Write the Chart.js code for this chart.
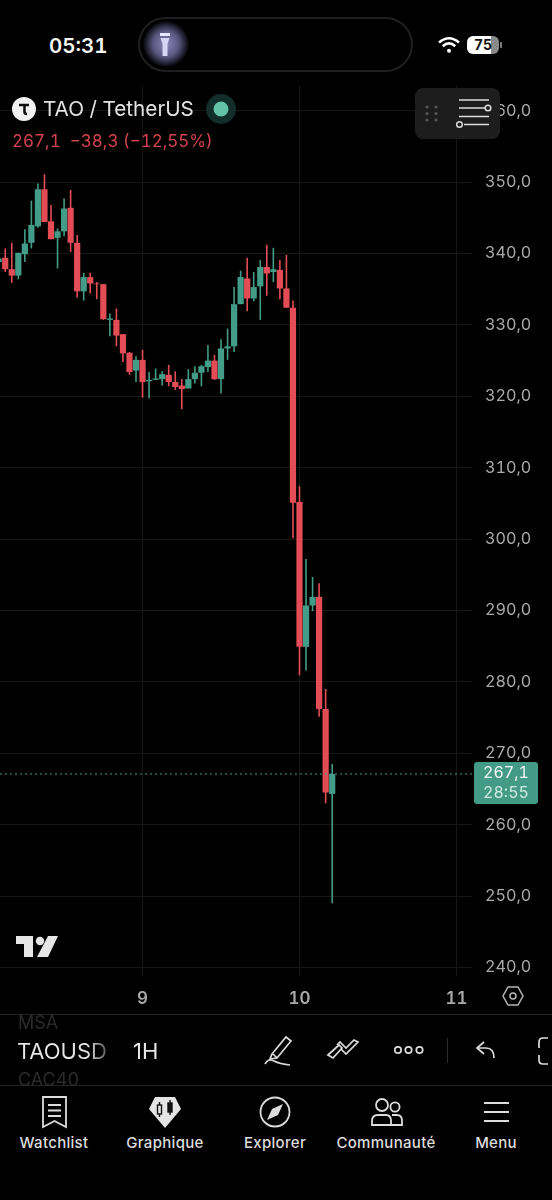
<!DOCTYPE html>
<html lang="fr">
<head>
<meta charset="utf-8">
<title>TAO / TetherUS</title>
<script src="https://cdn.jsdelivr.net/npm/chart.js@4"></script>
<style>
html, body { margin: 0; padding: 0; background: #000; }
body { position: relative; width: 552px; height: 1200px; overflow: hidden; font-family: Inter, "Noto Sans", sans-serif; color: #ddd; font-variant-numeric: tabular-nums; }
.abs { position: absolute; white-space: nowrap; }
svg { position: absolute; overflow: visible; }
#chartBox { position: absolute; left: 0; top: 85px; width: 552px; height: 930px; }
.tab { position: absolute; top: 1134px; width: 110px; text-align: center; font-size: 15px; font-weight: 500; letter-spacing: .3px; color: #dcdcdc; line-height: 18px; }
</style>
</head>
<body>

<div id="chartBox"><canvas id="myChart"></canvas></div>

<!-- status bar -->
<div class="abs" style="left:49px;top:32px;font-size:20.5px;font-weight:600;color:#f4f4f4;line-height:27px">05:31</div>
<div class="abs" style="left:138px;top:17px;width:271px;height:51px;border:2px solid #1f1f1f;border-radius:28px"></div>
<div class="abs" style="left:143px;top:21px;width:46px;height:46px;border-radius:50%;background:radial-gradient(circle,#8d88b8 0%,#5a5680 40%,#000 72%)"></div>
<svg style="left:158px;top:32px" width="14" height="26" viewBox="0 0 14 26">
  <rect x="2" y="1" width="10" height="3" fill="#e8e6fb"/>
  <path d="M2.5 6 H11.5 L9.5 12 V24 H4.5 V12 Z" fill="#d8d4f5"/>
</svg>
<svg style="left:438px;top:36px" width="22" height="18" viewBox="0 0 22 18" fill="none" stroke="#fff" stroke-width="2.6">
  <path d="M1 6.5 Q11 -2 21 6.5"/><path d="M4.8 10.3 Q11 4.6 17.2 10.3"/>
  <circle cx="11" cy="14.8" r="2" fill="#fff" stroke="none"/>
</svg>
<div class="abs" style="left:467px;top:36px;width:32px;height:18px;border-radius:6px;background:linear-gradient(90deg,#fff 0,#fff 74%,#8a8a8a 74%,#8a8a8a 100%)"></div>
<div class="abs" style="left:500px;top:42px;width:2px;height:6px;background:#777"></div>
<div class="abs" style="left:467px;top:36px;width:32px;text-align:center;font-size:14px;font-weight:700;color:#111;line-height:18px">75</div>

<!-- symbol header -->
<svg style="left:12px;top:97px" width="24" height="24" viewBox="0 0 24 24">
  <circle cx="12" cy="12" r="12" fill="#f2f2f2"/>
  <path d="M7 8 H17 M12.5 8 V15 Q12.5 17 15 17" fill="none" stroke="#111" stroke-width="2.6"/>
</svg>
<div class="abs" style="left:43px;top:96px;font-size:20.7px;color:#e2e2e2;line-height:26px">TAO / TetherUS</div>
<svg style="left:206px;top:94px" width="30" height="30" viewBox="0 0 30 30">
  <circle cx="15" cy="15" r="15" fill="#112e2a"/><circle cx="15" cy="15" r="7.5" fill="#62c2a9"/>
</svg>
<div class="abs" style="left:12px;top:130px;font-size:17px;color:#d5434c;line-height:22px">267,1&nbsp; −38,3 (−12,55%)</div>

<!-- floating drawing panel -->
<div class="abs" style="left:415px;top:88px;width:85px;height:51px;border-radius:8px;background:#1d1d1d"></div>
<svg style="left:415px;top:88px" width="85" height="51" viewBox="0 0 85 51" fill="none" stroke="#dcdcdc" stroke-width="1.5">
  <g fill="#555" stroke="none">
    <circle cx="12" cy="19" r="1.6"/><circle cx="21" cy="19" r="1.6"/>
    <circle cx="12" cy="25.5" r="1.6"/><circle cx="21" cy="25.5" r="1.6"/>
    <circle cx="12" cy="32" r="1.6"/><circle cx="21" cy="32" r="1.6"/>
  </g>
  <path d="M44 12 H74 M44 20 H70 M44 28.5 H74 M49 36.5 H74"/>
  <circle cx="73" cy="20" r="2.8"/><circle cx="44.5" cy="36.5" r="2.8"/>
</svg>

<!-- last price tag -->
<div class="abs" style="left:474px;top:762px;width:64px;height:42px;border-radius:3px;background:#439a87"></div>
<div class="abs" style="left:474px;top:762px;width:64px;text-align:center;font-size:16px;color:#f4f4f4;line-height:21px">267,1</div>
<div class="abs" style="left:474px;top:782px;width:64px;text-align:center;font-size:16px;color:#cfe9e2;line-height:21px">28:55</div>

<!-- tradingview logo -->
<svg style="left:16px;top:936px" width="42" height="22" viewBox="0 0 42 22" fill="#e6e6e6">
  <path d="M0 0 H17 V21 H8 V8 H0 Z"/>
  <circle cx="24" cy="5" r="4.2"/>
  <path d="M32 0 H42 L32 21 H21 Z"/>
</svg>

<!-- settings hexagon -->
<svg style="left:502px;top:985px" width="22" height="22" viewBox="0 0 22 22" fill="none" stroke="#b5b5b5" stroke-width="1.5">
  <path d="M6 2 H16 L21 11 L16 20 H6 L1 11 Z"/><circle cx="11" cy="11" r="3"/>
</svg>

<!-- toolbar -->
<div class="abs" style="left:0;top:1014px;width:552px;height:1px;background:#242424"></div>
<div class="abs" style="left:0;top:1085px;width:552px;height:1px;background:#242424"></div>
<div class="abs" style="left:18px;top:1012px;font-size:18px;color:#2b2b2b;line-height:22px">MSA</div>
<div class="abs" style="left:18px;top:1069px;font-size:18px;color:#2b2b2b;line-height:22px">CAC40</div>
<div class="abs" style="left:17px;top:1037px;width:90px;overflow:hidden;font-size:22px;line-height:28px;color:transparent;background:linear-gradient(90deg,#e6e6e6 78%,#555 100%);-webkit-background-clip:text;background-clip:text">TAOUSD</div>
<div class="abs" style="left:133px;top:1037px;font-size:22px;font-variant-numeric:normal;color:#e6e6e6;line-height:28px">1H</div>
<svg style="left:264px;top:1035px" width="30" height="32" viewBox="0 0 30 32" fill="none" stroke="#dcdcdc" stroke-width="1.7">
  <path d="M8 19 L22 2 L27 6 L13 23 L6 24 Z"/><path d="M9 19 L13 23"/>
  <path d="M1 29 Q4 23 10 26 T26 30"/>
</svg>
<svg style="left:327px;top:1038px" width="33" height="24" viewBox="0 0 33 24" fill="none" stroke="#dcdcdc" stroke-width="1.7">
  <path d="M1 17 L12 7 L15 10 L6 20 Z"/><path d="M14 11 L19 16 L31 4 L27 2 L19 10 L13 4 L10 7"/>
</svg>
<svg style="left:394px;top:1044px" width="30" height="12" viewBox="0 0 30 12" fill="none" stroke="#dcdcdc" stroke-width="1.7">
  <circle cx="4" cy="6" r="3.2"/><circle cx="14.5" cy="6" r="3.2"/><circle cx="25.5" cy="6" r="3.2"/>
</svg>
<div class="abs" style="left:447px;top:1038px;width:1px;height:25px;background:#2c2c2c"></div>
<svg style="left:476px;top:1041px" width="20" height="18" viewBox="0 0 20 18" fill="none" stroke="#dcdcdc" stroke-width="1.7">
  <path d="M8 1 L1 7 L8 13"/><path d="M1 7 H10 Q18 7 18 17"/>
</svg>
<svg style="left:538px;top:1037px" width="14" height="28" viewBox="0 0 14 28" fill="none" stroke="#dcdcdc" stroke-width="1.7">
  <path d="M10 1 H5 Q1 1 1 5 V11 M1 18 V23 Q1 27 5 27 H10"/>
</svg>

<!-- bottom tabs -->
<svg style="left:42px;top:1096px" width="25" height="32" viewBox="0 0 25 32" fill="none" stroke="#dcdcdc" stroke-width="1.8">
  <path d="M1 1 H24 V31 L12.5 25 L1 31 Z"/><path d="M6 9 H19 M6 14.5 H19 M6 20 H19"/>
</svg>
<svg style="left:148px;top:1096px" width="34" height="32" viewBox="0 0 34 32">
  <path d="M7 1 H27 L33 13 L17 32 L1 13 Z" fill="#e4e4e4"/>
  <g fill="#111" stroke="#111" stroke-width="1.4">
    <rect x="9.5" y="9" width="4" height="9" fill="none"/><path d="M11.5 6 V9 M11.5 18 V21"/>
    <rect x="20" y="7" width="4" height="9"/><path d="M22 4 V7 M22 16 V19"/>
  </g>
</svg>
<svg style="left:260px;top:1096px" width="30" height="32" viewBox="0 0 30 32" fill="none" stroke="#dcdcdc" stroke-width="1.8">
  <circle cx="15" cy="16" r="14.5"/>
  <path d="M7 24 L12 13 L23 8 L18 19 Z" fill="#dcdcdc" stroke="none"/>
</svg>
<svg style="left:371px;top:1097px" width="32" height="30" viewBox="0 0 32 30" fill="none" stroke="#dcdcdc" stroke-width="1.8">
  <circle cx="11" cy="8" r="6"/><circle cx="24" cy="10" r="4.6"/>
  <path d="M1 28 V24 Q1 18 7 18 H15 Q20 18 20 24 V28 Z"/>
  <path d="M21 18 H26 Q31 18 31 24 V28 H20"/>
</svg>
<svg style="left:484px;top:1101px" width="25" height="22" viewBox="0 0 25 22" fill="none" stroke="#dcdcdc" stroke-width="1.9">
  <path d="M0 2 H25 M0 11 H25 M0 20 H25"/>
</svg>
<div class="tab" style="left:-1px">Watchlist</div>
<div class="tab" style="left:110px">Graphique</div>
<div class="tab" style="left:220px">Explorer</div>
<div class="tab" style="left:331px">Communauté</div>
<div class="tab" style="left:441px">Menu</div>

<script>
// hourly candles, hour 0 = the "9" day tick
const hours = [-22,-21,-20,-19,-18,-17,-16,-15,-14,-13,-12,-11,-10,-9,-8,-7,-6,-5,-4,-3,-2,-1,
    0,1,2,3,4,5,6,7,8,9,10,11,12,13,14,15,16,17,18,19,20,21,22,23,24,25,26,27,28,29];

const opens = [338.8,339.4,337.8,336.9,339.9,341.5,343.8,349.0,344.5,342.2,343.1,346.4,341.5,334.7,336.7,335.8,335.7,330.7,330.7,328.7,326.1,323.6,
    325.1,322.1,322.3,322.4,323.0,322.0,321.5,321.1,322.4,323.3,324.1,325.0,322.4,326.7,327.0,332.9,336.5,333.7,335.4,338.1,337.4,337.7,335.1,332.4,305.2,284.9,290.7,291.9,276.2,264.3];
const closes = [339.3,337.8,336.9,340.1,341.4,344.0,349.0,344.4,342.0,343.1,346.3,341.5,334.7,336.7,335.8,335.7,330.8,330.9,328.5,326.0,323.4,325.1,
    322.0,322.3,322.5,323.1,322.0,321.3,321.0,322.4,323.3,324.2,325.0,322.4,326.7,327.0,332.9,336.7,333.7,335.3,338.1,337.2,337.8,335.1,332.4,305.1,284.9,290.7,291.9,276.2,264.5,267.1];
const highs = [344.8,340.7,341.5,340.1,343.4,347.4,349.8,351.1,346.8,343.5,347.7,348.9,342.6,337.3,337.3,336.0,335.7,331.6,332.3,328.7,326.2,325.6,
    326.5,323.4,323.9,323.5,324.4,323.5,322.4,323.8,324.2,324.4,327.2,325.8,328.0,329.5,335.3,337.6,339.4,337.4,339.1,341.2,340.8,339.1,339.8,333.4,307.4,297.2,294.7,293.8,279.0,268.5];
const lows = [337.9,337.4,335.9,336.4,338.8,340.7,343.6,344.4,342.0,337.9,342.4,340.2,333.8,333.4,334.4,333.6,330.7,328.4,327.0,324.8,323.0,322.0,
    319.8,319.7,322.3,321.5,321.4,320.9,318.2,321.1,321.8,321.4,323.4,322.3,320.4,325.1,326.2,332.9,331.9,333.3,330.7,334.1,336.0,333.6,332.4,300.1,280.9,281.6,289.9,275.1,263.0,249.0];

const lastPrice = 267.1;
const priceTicks = [240,250,260,270,280,290,300,310,320,330,340,350,360];
const dayTicks = [0,24,48];
const dayLabels = ['9','10','11'];

const xMin = -21.8, xMax = 50.38;
const yMin = 238.8, yMax = 363.6;

const upColor = '#439c88';
const downColor = '#e44d56';
const gridColor = '#161616';

const colors = opens.map((o, i) => closes[i] >= o ? upColor : downColor);

const ctx = document.getElementById('myChart');

const myChart = new Chart(ctx, {
    type: 'bar',
    data: {
        datasets: [{
            label: 'last',
            type: 'line',
            data: [{x: xMin, y: lastPrice}, {x: xMax, y: lastPrice}],
            borderColor: upColor,
            borderWidth: 1,
            borderDash: [2, 3],
            pointRadius: 0
        }, {
            label: 'wick',
            data: hours.map((h, i) => ({x: h, y: [lows[i], highs[i]]})),
            backgroundColor: colors,
            barThickness: 1.6,
            inflateAmount: 0
        }, {
            label: 'body',
            data: hours.map((h, i) => ({x: h, y: [opens[i], closes[i]]})),
            backgroundColor: colors,
            barThickness: 6.2,
            inflateAmount: 0
        }]
    },
    options: {
        responsive: true,
        maintainAspectRatio: false,
        animation: false,
        grouped: false,
        layout: {padding: 0},
        plugins: {
            legend: {display: false},
            tooltip: {enabled: false}
        },
        scales: {
            x: {
                type: 'linear',
                min: xMin,
                max: xMax,
                offset: false,
                grid: {color: gridColor, drawTicks: false, offset: false},
                border: {display: false},
                afterBuildTicks: axis => { axis.ticks = dayTicks.map(v => ({value: v})); },
                afterFit: axis => { axis.height = 39; axis.paddingLeft = 0; axis.paddingRight = 0; },
                ticks: {
                    autoSkip: false,
                    maxRotation: 0,
                    padding: 13,
                    color: '#a9a9a9',
                    font: {family: 'Inter', size: 17, weight: '600'},
                    callback: v => dayLabels[dayTicks.indexOf(v)]
                }
            },
            y: {
                type: 'linear',
                position: 'right',
                min: yMin,
                max: yMax,
                grid: {color: gridColor, drawTicks: false},
                border: {display: false},
                afterBuildTicks: axis => { axis.ticks = priceTicks.map(v => ({value: v})); },
                afterFit: axis => { axis.width = 80; axis.paddingTop = 0; axis.paddingBottom = 0; },
                ticks: {
                    autoSkip: false,
                    padding: 13,
                    color: '#a9a9a9',
                    font: {family: 'Inter', size: 16.2},
                    callback: v => v.toFixed(1).replace('.', ',')
                }
            }
        }
    }
});
</script>
</body>
</html>
